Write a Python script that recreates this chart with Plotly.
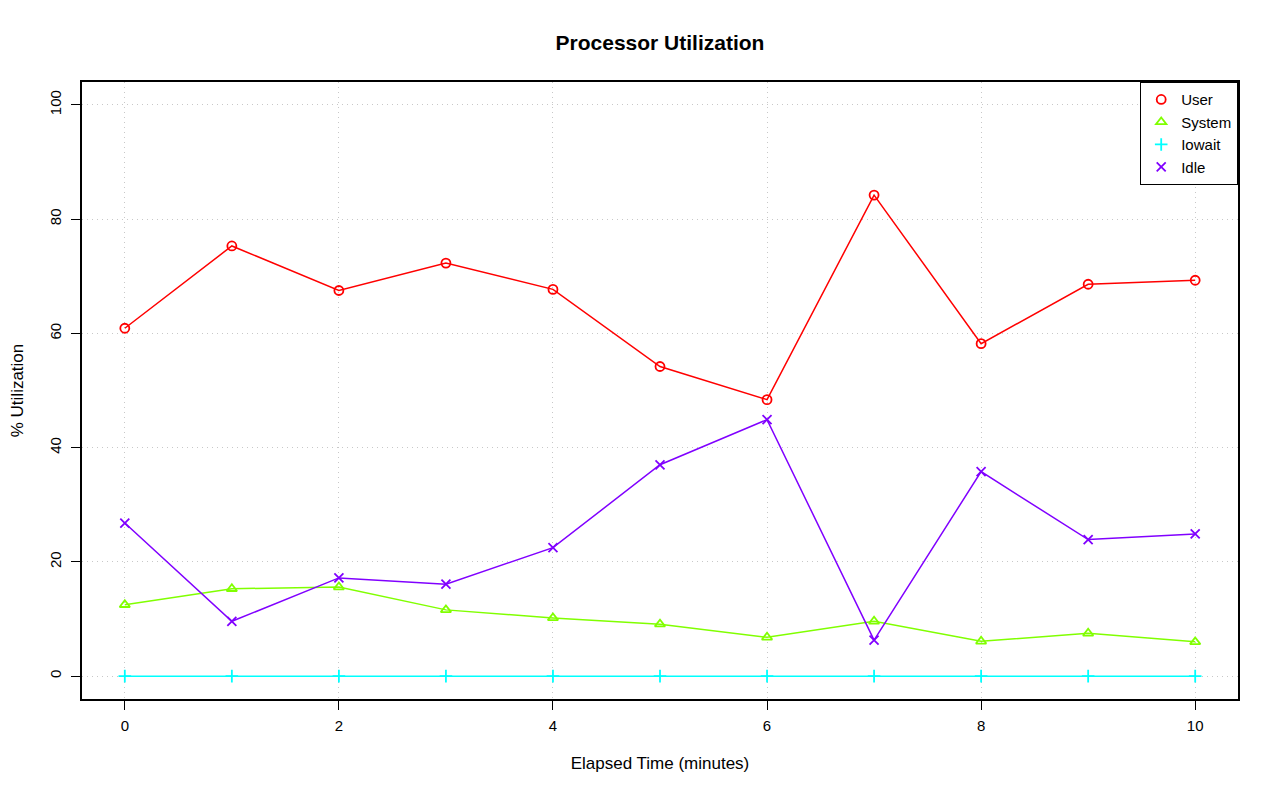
import plotly.graph_objects as go

minutes = [0, 1, 2, 3, 4, 5, 6, 7, 8, 9, 10]
user = [60.9, 75.3, 67.5, 72.3, 67.7, 54.2, 48.4, 84.2, 58.2, 68.6, 69.3]
system = [12.5, 15.3, 15.6, 11.6, 10.2, 9.1, 6.8, 9.6, 6.1, 7.5, 6.0]
iowait = [0, 0, 0, 0, 0, 0, 0, 0, 0, 0, 0]
idle = [26.8, 9.6, 17.2, 16.1, 22.5, 37.0, 44.9, 6.3, 35.8, 23.9, 24.9]

series = [
    ("User", user, "#FF0000", "circle-open"),
    ("System", system, "#80FF00", "triangle-up-open"),
    ("Iowait", iowait, "#00FFFF", "cross-thin-open"),
    ("Idle", idle, "#8000FF", "x-thin-open"),
]

fig = go.Figure()
for name, vals, color, sym in series:
    fig.add_trace(go.Scatter(
        x=minutes, y=vals, name=name, mode="lines", showlegend=False,
        line=dict(color=color, width=1.5), hoverinfo="skip",
    ))
for name, vals, color, sym in series:
    fig.add_trace(go.Scatter(
        x=minutes, y=vals, name=name, mode="markers",
        marker=dict(symbol=sym, size=9, color=color, line=dict(color=color, width=1.8)),
    ))

font = "Liberation Sans, Arial, Helvetica, sans-serif"
fig.update_layout(
    width=1280, height=801,
    paper_bgcolor="white", plot_bgcolor="white",
    margin=dict(l=74, r=50, t=74, b=110),
    font=dict(family=font, size=15, color="black"),
    title=dict(text="<b>Processor Utilization</b>", x=652/1280, xanchor="center",
               y=1 - 35/801, yanchor="middle", font=dict(size=21)),
    showlegend=True,
    legend=dict(x=1, y=1, xanchor="right", yanchor="top", bordercolor="black",
                borderwidth=1.2, bgcolor="white", font=dict(size=15),
                tracegroupgap=0, itemwidth=30),
    xaxis=dict(range=[-0.4, 10.4], tickvals=[0, 2, 4, 6, 8, 10], showline=True,
               linecolor="black", linewidth=1.6, mirror=True, ticks="outside",
               ticklen=9, tickwidth=1.4, tickcolor="black", showgrid=True,
               gridcolor="#c8c8c8", griddash="1px,4px", gridwidth=1, zeroline=False,
               tickfont=dict(size=15), ticklabelstandoff=3, automargin=False,
               title=dict(text="Elapsed Time (minutes)", standoff=24, font=dict(size=17))),
    yaxis=dict(range=[-4, 104], tickvals=[0, 20, 40, 60, 80, 100], showline=True,
               linecolor="black", linewidth=1.6, mirror=True, ticks="outside",
               ticklen=9, tickwidth=1.4, tickcolor="black", tickangle=-90, showgrid=True,
               gridcolor="#c8c8c8", griddash="1px,4px", gridwidth=1, zeroline=False,
               tickfont=dict(size=15), ticklabelstandoff=4, automargin=False,
               title=dict(text="% Utilization", standoff=26, font=dict(size=17))),
)

fig.write_html("out.html")
